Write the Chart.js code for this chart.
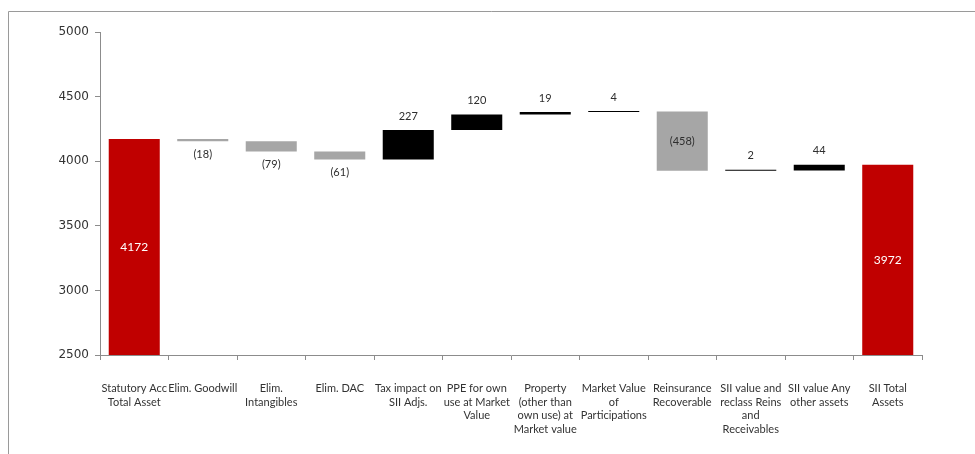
<!DOCTYPE html>
<html>
<head>
<meta charset="utf-8">
<script src="https://cdn.jsdelivr.net/npm/chart.js@4.4.1/dist/chart.umd.min.js"></script>
<style>
  html, body { margin: 0; padding: 0; background: #ffffff; }
  #wrap { width: 975px; height: 454px; position: relative; }
  canvas { display: block; }
</style>
</head>
<body>
<div id="wrap"><canvas id="chart" width="975" height="454"></canvas></div>
<script>
// Asset bridge: statutory total -> Solvency II total
const categories = [
  ["Statutory Acc", "Total Asset"],
  ["Elim. Goodwill"],
  ["Elim.", "Intangibles"],
  ["Elim. DAC"],
  ["Tax impact on", "SII Adjs."],
  ["PPE for own", "use at Market", "Value"],
  ["Property", "(other than", "own use) at", "Market value"],
  ["Market Value", "of", "Participations"],
  ["Reinsurance", "Recoverable"],
  ["SII value and", "reclass Reins", "and", "Receivables"],
  ["SII value Any", "other assets"],
  ["SII Total", "Assets"]
];
// Bar kind: "total" bars start at the axis base, "step" bars float
const kinds = ["total", "step", "step", "step", "step", "step", "step", "step", "step", "step", "step", "total"];
const values = [4172, -18, -79, -61, 227, 120, 19, 4, -458, 2, 44, 3972];
const yTicks = [2500, 3000, 3500, 4000, 4500, 5000];

const AXIS_MIN = yTicks[0];
const AXIS_MAX = yTicks[yTicks.length - 1];
const RED = "#C00000", GREY = "#A6A6A6", BLACK = "#000000";

// Build floating ranges from the running total
const ranges = [];
let running = 0;
values.forEach((v, i) => {
  if (kinds[i] === "total") {
    ranges.push([AXIS_MIN, v]);
    running = v;
  } else {
    ranges.push([running, running + v]);
    running += v;
  }
});
const colors = values.map((v, i) => kinds[i] === "total" ? RED : (v < 0 ? GREY : BLACK));
const fmt = v => v < 0 ? "(" + Math.abs(v) + ")" : String(v);

// Outer frame line (top and left edges)
const framePlugin = {
  id: "frame",
  beforeDraw(chart) {
    const ctx = chart.ctx;
    ctx.save();
    ctx.strokeStyle = "#9a9a9a";
    ctx.lineWidth = 1;
    ctx.beginPath();
    ctx.moveTo(8.5, 454);
    ctx.lineTo(8.5, 11.5);
    ctx.lineTo(975, 11.5);
    ctx.stroke();
    ctx.restore();
  }
};

// Value labels for every bar
const labelPlugin = {
  id: "barLabels",
  afterDatasetsDraw(chart) {
    const ctx = chart.ctx;
    const meta = chart.getDatasetMeta(0);
    ctx.save();
    ctx.textAlign = "center";
    ctx.textBaseline = "middle";
    meta.data.forEach((el, i) => {
      const v = values[i];
      const top = Math.min(el.y, el.base);
      const bottom = Math.max(el.y, el.base);
      const mid = (top + bottom) / 2;
      let y;
      if (kinds[i] === "total") {
        ctx.font = "12px Lato";
        ctx.fillStyle = "#ffffff";
        y = mid;
      } else if (v < 0) {
        ctx.font = "11px Lato";
        ctx.fillStyle = "#2e2e2e";
        y = (bottom - top) > 30 ? mid : bottom + 13;
      } else {
        ctx.font = "11px Lato";
        ctx.fillStyle = "#2e2e2e";
        y = top - 14;
      }
      ctx.fillText(fmt(v), el.x, y);
    });
    ctx.restore();
  }
};

new Chart(document.getElementById("chart"), {
  type: "bar",
  data: {
    labels: categories,
    datasets: [{
      data: ranges,
      backgroundColor: colors,
      borderWidth: 0,
      minBarLength: 1,
      barPercentage: 0.745,
      categoryPercentage: 1.0
    }]
  },
  options: {
    responsive: false,
    maintainAspectRatio: false,
    animation: false,
    devicePixelRatio: 1,
    layout: { padding: { left: 0, right: 53, top: 32, bottom: 0 } },
    plugins: { legend: { display: false }, tooltip: { enabled: false } },
    scales: {
      x: {
        grid: { display: true, drawOnChartArea: false, offset: true, tickLength: 5, color: "#8c8c8c" },
        border: { display: true, color: "#8c8c8c", width: 1 },
        ticks: {
          maxRotation: 0, autoSkip: false, padding: 22,
          color: "#333333",
          font: { family: "Lato", size: 11, lineHeight: 1.23 }
        },
        afterFit(scale) { scale.height = 99; }
      },
      y: {
        min: AXIS_MIN, max: AXIS_MAX,
        afterBuildTicks(scale) { scale.ticks = yTicks.map(v => ({ value: v })); },
        grid: { display: true, drawOnChartArea: false, tickLength: 5, color: "#8c8c8c" },
        border: { display: true, color: "#8c8c8c", width: 1 },
        ticks: {
          autoSkip: false,
          padding: 6,
          color: "#333333",
          font: { family: "DejaVu Sans", size: 12 },
          callback: v => String(v)
        },
        afterFit(scale) { scale.width = 100; }
      }
    }
  },
  plugins: [framePlugin, labelPlugin]
});
</script>
</body>
</html>
